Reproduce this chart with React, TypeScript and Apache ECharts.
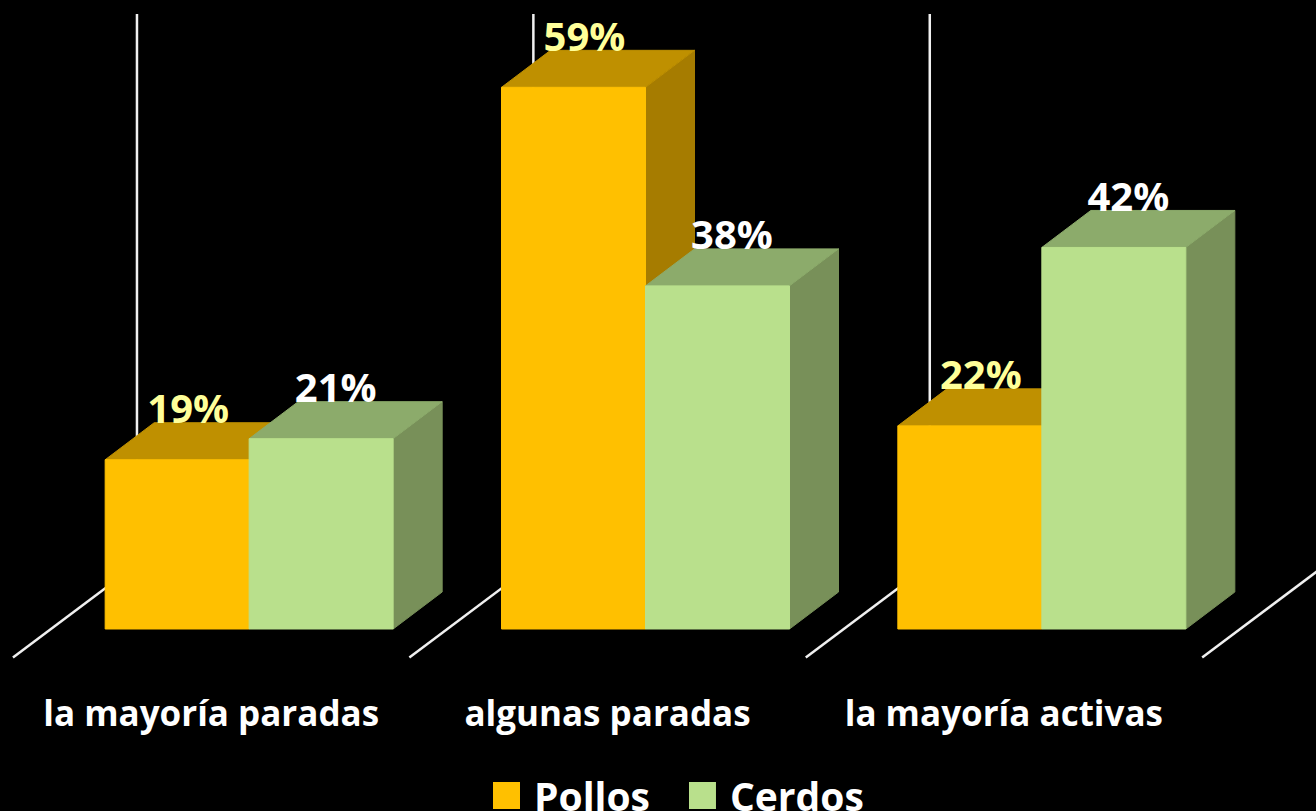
import React, { useEffect, useRef } from "react";
import * as echarts from "echarts";

const categories = ["la mayoría paradas", "algunas paradas", "la mayoría activas"];
const pollos = [18.5, 59.2, 22.2];
const cerdos = [20.8, 37.5, 41.7];
const boundaries = [0, 1, 2, 3];

const FONT = "'Open Sans', Lato, sans-serif";
const BAR_W = 144;
const DX = 49;
const DY = -37;
const BAND = 396.4;

type Palette = { front: string; top: string; side: string; label: string };
const amber: Palette = { front: "#FFC000", top: "#BF9000", side: "#A67C00", label: "#FFFF99" };
const green: Palette = { front: "#B9E08C", top: "#8CAB6B", side: "#789059", label: "#FFFFFF" };

function poly(points: number[][], fill: string, stroke: string) {
  return {
    type: "polygon",
    shape: { points },
    style: { fill, stroke, lineWidth: 1 },
  };
}

function barRenderer(p: Palette, leftShift: number, labelShift: number) {
  return (_params: any, api: any) => {
    const idx = api.value(0);
    const v = api.value(1);
    const [cx, yTop] = api.coord([idx, v]);
    const [, yBase] = api.coord([idx, 0]);
    const x0 = cx + 38 + leftShift;
    const x1 = x0 + BAR_W;
    return {
      type: "group",
      children: [
        poly([[x1, yTop], [x1 + DX, yTop + DY], [x1 + DX, yBase + DY], [x1, yBase]], p.side, p.side),
        poly([[x0, yTop], [x0 + DX, yTop + DY], [x1 + DX, yTop + DY], [x1, yTop]], p.top, p.top),
        poly([[x0, yTop], [x1, yTop], [x1, yBase], [x0, yBase]], p.front, p.front),
        {
          type: "text",
          style: {
            text: `${Math.round(v)}%`,
            x: (x0 + x1) / 2 + labelShift,
            y: yTop + DY + 5,
            textAlign: "center",
            textVerticalAlign: "bottom",
            fill: p.label,
            font: `bold 40px ${FONT}`,
          },
        },
      ],
    };
  };
}

function wallRenderer(_params: any, api: any) {
  const b = api.value(2);
  const [cx, yBase] = api.coord([0, 0]);
  const x = cx - BAND / 2 + b * BAND;
  const lineStyle = { stroke: "#F0F0F0", lineWidth: 2.5 };
  const frontY = yBase + 28.5;
  const backX = x + 124;
  const backY = frontY - 93;
  return {
    type: "group",
    children: [
      { type: "line", shape: { x1: x, y1: frontY, x2: backX, y2: backY }, style: lineStyle },
      { type: "line", shape: { x1: backX, y1: backY, x2: backX, y2: yBase - 615 }, style: lineStyle },
    ],
  };
}

export default function App() {
  const ref = useRef<HTMLDivElement>(null);
  useEffect(() => {
    document.body.style.margin = "0";
    document.body.style.background = "#000";
    document.body.style.overflow = "hidden";
    const chart = echarts.init(ref.current!, undefined, { renderer: "svg" });
    chart.setOption({
      animation: false,
      backgroundColor: "#000000",
      grid: { left: 13, right: 114, top: 80, bottom: 182, containLabel: false },
      xAxis: {
        type: "category",
        data: categories,
        axisLine: { show: false },
        axisTick: { show: false },
        splitLine: { show: false },
        axisLabel: {
          interval: 0,
          margin: 63,
          color: "#FFFFFF",
          fontFamily: FONT,
          fontWeight: "bold",
          fontSize: 35,
          lineHeight: 40,
        },
      },
      yAxis: { type: "value", min: 0, max: 60, show: false, splitLine: { show: false } },
      legend: {
        data: ["Pollos", "Cerdos"],
        left: 493,
        top: 775,
        padding: 0,
        icon: "rect",
        itemWidth: 27,
        itemHeight: 27,
        itemGap: 39,
        selectedMode: false,
        textStyle: {
          color: "#FFFFFF",
          fontFamily: FONT,
          fontWeight: "bold",
          fontSize: 39,
          lineHeight: 27,
          padding: [0, 0, 14, 9],
        },
      },
      series: [
        {
          type: "custom",
          name: "walls",
          silent: true,
          z: 1,
          data: boundaries.map((b) => [0, 0, b]),
          renderItem: wallRenderer,
        },
        {
          type: "custom",
          name: "Pollos",
          z: 2,
          itemStyle: { color: amber.front },
          data: pollos.map((v, i) => [i, v]),
          renderItem: barRenderer(amber, -BAR_W, 11),
        },
        {
          type: "custom",
          name: "Cerdos",
          z: 3,
          itemStyle: { color: green.front },
          data: cerdos.map((v, i) => [i, v]),
          renderItem: barRenderer(green, 0, 14.5),
        },
      ],
    });
    return () => chart.dispose();
  }, []);
  return <div ref={ref} style={{ width: 1316, height: 811 }} />;
}
